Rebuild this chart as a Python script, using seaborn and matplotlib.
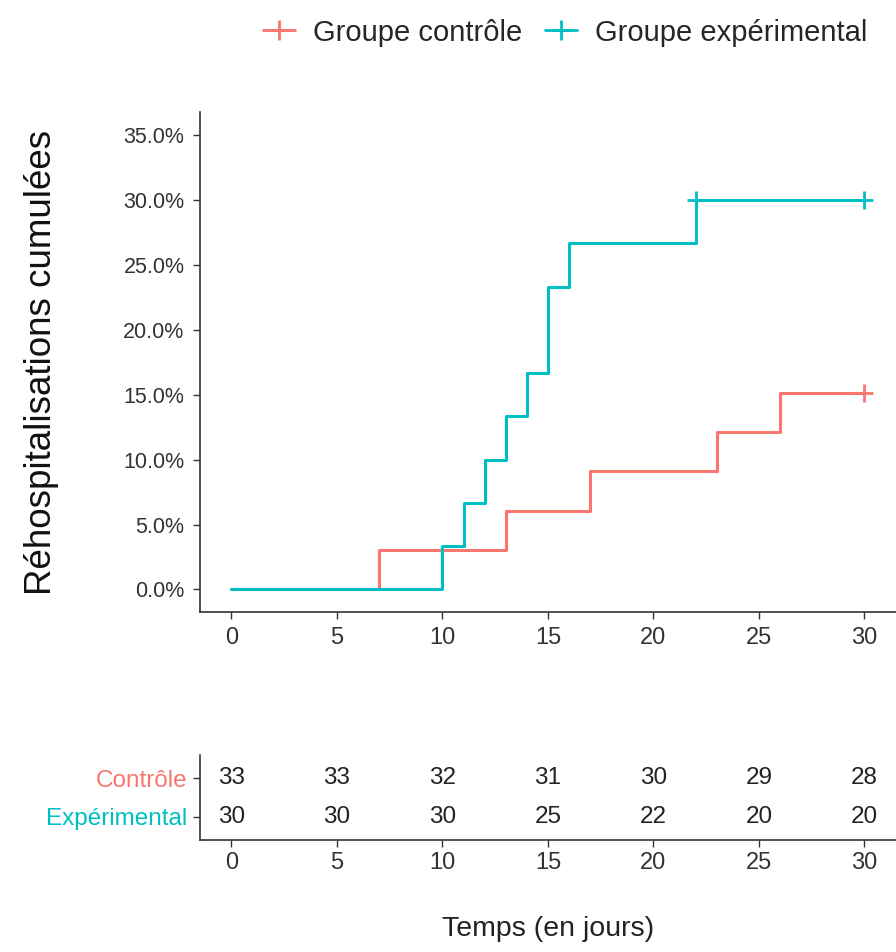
import numpy as np
import pandas as pd
import matplotlib.pyplot as plt
import seaborn as sns
from matplotlib.lines import Line2D
from matplotlib.ticker import FuncFormatter

# cumulative incidence curves (in %)
ctrl_time = [0, 7, 13, 17, 23, 26, 30]
ctrl_cum = [0.0, 3.03, 6.06, 9.09, 12.12, 15.15, 15.15]
exp_time = [0, 10, 11, 12, 13, 14, 15, 16, 22, 30]
exp_cum = [0.0, 3.33, 6.67, 10.0, 13.33, 16.67, 23.33, 26.67, 30.0, 30.0]

# censoring marks
ctrl_cens_time = [30]
ctrl_cens_cum = [15.15]
exp_cens_time = [22, 30]
exp_cens_cum = [30.0, 30.0]

# number at risk
risk_times = [0, 5, 10, 15, 20, 25, 30]
risk_ctrl = [33, 33, 32, 31, 30, 29, 28]
risk_exp = [30, 30, 30, 25, 22, 20, 20]

groups = ["Groupe contrôle", "Groupe expérimental"]
colors = ["#F8766D", "#00BFC4"]

sns.set_style("ticks")
plt.rcParams['font.family'] = ['Liberation Sans', 'DejaVu Sans']

curves = pd.concat([
    pd.DataFrame({"t": ctrl_time, "cum": ctrl_cum, "grp": groups[0]}),
    pd.DataFrame({"t": exp_time, "cum": exp_cum, "grp": groups[1]}),
])
cens = pd.concat([
    pd.DataFrame({"t": ctrl_cens_time, "cum": ctrl_cens_cum, "grp": groups[0]}),
    pd.DataFrame({"t": exp_cens_time, "cum": exp_cens_cum, "grp": groups[1]}),
])

fig = plt.figure(figsize=(8.96, 9.52), dpi=100)
ax = fig.add_axes([0.223, 0.357, 0.777, 0.525])
ax2 = fig.add_axes([0.223, 0.118, 0.777, 0.089])

pal = dict(zip(groups, colors))
sns.lineplot(data=curves, x="t", y="cum", hue="grp", palette=pal, ax=ax,
             drawstyle="steps-post", linewidth=2.2, legend=False)
sns.scatterplot(data=cens, x="t", y="cum", hue="grp", palette=pal, ax=ax,
                marker="+", s=160, linewidth=2, legend=False)

ax.set_xlim(-1.5, 31.5)
ax.set_ylim(-1.75, 36.75)
ax.set_xticks(risk_times)
ax.set_yticks(np.arange(0, 36, 5))
ax.yaxis.set_major_formatter(FuncFormatter(lambda v, p: f"{v:.1f}%"))
ax.set_xlabel("")
ax.set_ylabel("Réhospitalisations cumulées", fontsize=26.5, labelpad=46, color="#111111")
ax.tick_params(axis="y", labelsize=15.5)
ax.tick_params(axis="x", labelsize=17)
ax.tick_params(length=5, width=1, colors="#333333", pad=6)
sns.despine(ax=ax)
for s in ["left", "bottom"]:
    ax.spines[s].set_color("#333333")
    ax.spines[s].set_linewidth(1.2)

# risk table
for i, t in enumerate(risk_times):
    ax2.text(t, 1, str(risk_ctrl[i]), ha="center", va="center", fontsize=17.5, color="#222222")
    ax2.text(t, 0, str(risk_exp[i]), ha="center", va="center", fontsize=17.5, color="#222222")
ax2.set_xlim(-1.5, 31.5)
ax2.set_ylim(-0.6, 1.6)
ax2.set_xticks(risk_times)
ax2.set_yticks([1, 0])
ax2.set_yticklabels(["Contrôle", "Expérimental"])
ax2.tick_params(axis="y", labelsize=17.5)
ax2.tick_params(axis="x", labelsize=17)
ax2.tick_params(length=5, width=1, colors="#333333", pad=4)
for lbl, c in zip(ax2.get_yticklabels(), colors):
    lbl.set_color(c)
ax2.set_xlabel("Temps (en jours)", fontsize=20.5, labelpad=30, color="#222222")
sns.despine(ax=ax2)
for s in ["left", "bottom"]:
    ax2.spines[s].set_color("#333333")
    ax2.spines[s].set_linewidth(1.2)

handles = [Line2D([], [], color=c, marker="+", markersize=14, markeredgewidth=2,
                  linestyle="-", linewidth=2) for c in colors]
fig.legend(handles, groups, loc="upper right", bbox_to_anchor=(0.997, 1.008), ncol=2,
           frameon=False, fontsize=21, handlelength=1.1, handletextpad=0.6, columnspacing=0.8)

fig.savefig("out.png", dpi=100)
